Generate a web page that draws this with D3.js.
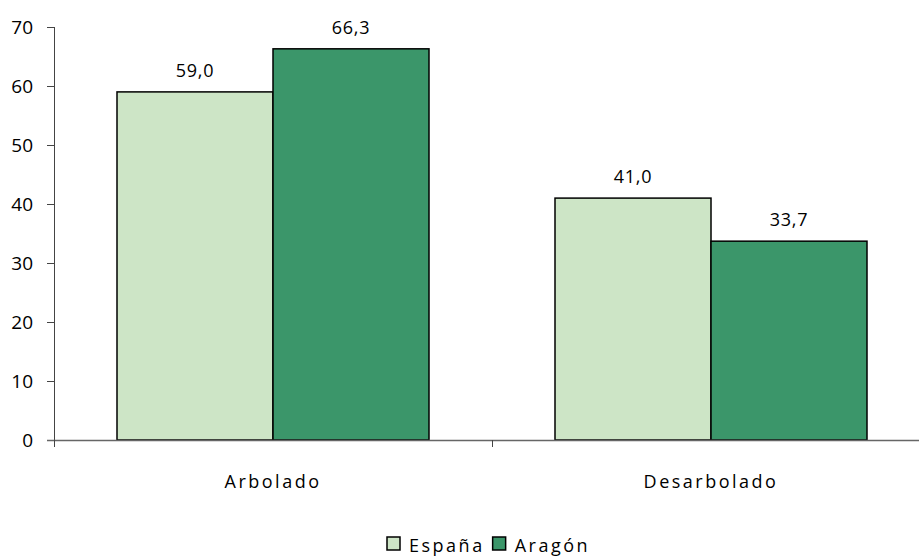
<!DOCTYPE html>
<html>
<head>
<meta charset="utf-8">
<script src="https://cdn.jsdelivr.net/npm/d3@7"></script>
<style>
  body { margin: 0; background: #fff; }
  text { font-family: "Open Sans", "Liberation Sans", sans-serif; }
</style>
</head>
<body>
<svg id="chart" width="919" height="557"></svg>
<script>
// Chart data
const categories = ['Arbolado', 'Desarbolado'];
const seriesNames = ['España', 'Aragón'];
const espana = [59.0, 41.0];
const aragon = [66.3, 33.7];
const yTicks = [0, 10, 20, 30, 40, 50, 60, 70];
const colors = ['#cde5c6', '#3b966a'];

const svg = d3.select('#chart');
const margin = { left: 54, top: 27, bottom: 440 };

const x = d3.scaleBand()
    .domain(categories)
    .range([margin.left, margin.left + 438 * 2]);

const xInner = d3.scaleBand()
    .domain(seriesNames)
    .range([0, x.bandwidth()])
    .paddingOuter(63 / 156)
    .paddingInner(0);

const y = d3.scaleLinear()
    .domain([0, 70])
    .range([margin.bottom, margin.top]);

// Y axis
svg.append('line')
    .attr('x1', margin.left + 0.5).attr('x2', margin.left + 0.5)
    .attr('y1', y(70)).attr('y2', y(0) + 7)
    .attr('stroke', '#444').attr('stroke-width', 1);

svg.selectAll('.ytick')
    .data(yTicks)
    .enter()
    .append('line')
    .attr('x1', margin.left - 7).attr('x2', margin.left)
    .attr('y1', d => Math.round(y(d)) + 0.5)
    .attr('y2', d => Math.round(y(d)) + 0.5)
    .attr('stroke', '#444');

svg.selectAll('.ylabel')
    .data(yTicks)
    .enter()
    .append('text')
    .attr('x', 33)
    .attr('y', d => y(d) + 7)
    .attr('text-anchor', 'end')
    .attr('font-size', '19px')
    .attr('fill', '#000')
    .text(d => d);

// Bars
const groups = svg.selectAll('.cat')
    .data(categories)
    .enter()
    .append('g')
    .attr('transform', d => `translate(${x(d)},0)`);

groups.each(function(cat, i) {
    const vals = [espana[i], aragon[i]];
    const g = d3.select(this);
    seriesNames.forEach((s, j) => {
        g.append('rect')
            .attr('x', xInner(s))
            .attr('y', y(vals[j]))
            .attr('width', xInner.bandwidth())
            .attr('height', y(0) - y(vals[j]))
            .attr('fill', colors[j])
            .attr('stroke', '#000')
            .attr('stroke-width', 1.5);
        g.append('text')
            .attr('x', xInner(s) + xInner.bandwidth() / 2)
            .attr('y', y(vals[j]) - 15)
            .attr('text-anchor', 'middle')
            .attr('font-size', '18px')
            .attr('letter-spacing', '0.8px')
            .attr('fill', '#000')
            .text(vals[j].toFixed(1).replace('.', ','));
    });
});

// X axis
svg.append('line')
    .attr('x1', margin.left - 7).attr('x2', 919)
    .attr('y1', y(0) + 0.5).attr('y2', y(0) + 0.5)
    .attr('stroke', '#666').attr('stroke-width', 1.5);

svg.selectAll('.xtick')
    .data([margin.left, margin.left + 438])
    .enter()
    .append('line')
    .attr('x1', d => d + 0.5).attr('x2', d => d + 0.5)
    .attr('y1', y(0)).attr('y2', y(0) + 7)
    .attr('stroke', '#444');

svg.selectAll('.xlabel')
    .data(categories)
    .enter()
    .append('text')
    .attr('x', d => x(d) + x.bandwidth() / 2)
    .attr('y', 488)
    .attr('text-anchor', 'middle')
    .attr('font-size', '18px')
    .attr('letter-spacing', '2.5px')
    .attr('fill', '#000')
    .text(d => d);

// Legend
const legend = svg.append('g').attr('transform', 'translate(387,537)');
let lx = 0;
seriesNames.forEach((s, i) => {
    legend.append('rect')
        .attr('x', lx).attr('y', 0)
        .attr('width', 13).attr('height', 13)
        .attr('fill', colors[i])
        .attr('stroke', '#000').attr('stroke-width', 1.5);
    const t = legend.append('text')
        .attr('x', lx + 22).attr('y', 15)
        .attr('font-size', '18px')
        .attr('letter-spacing', '2.5px')
        .attr('fill', '#000')
        .text(s);
    lx += 22 + t.node().getComputedTextLength() + 8;
});
</script>
</body>
</html>
